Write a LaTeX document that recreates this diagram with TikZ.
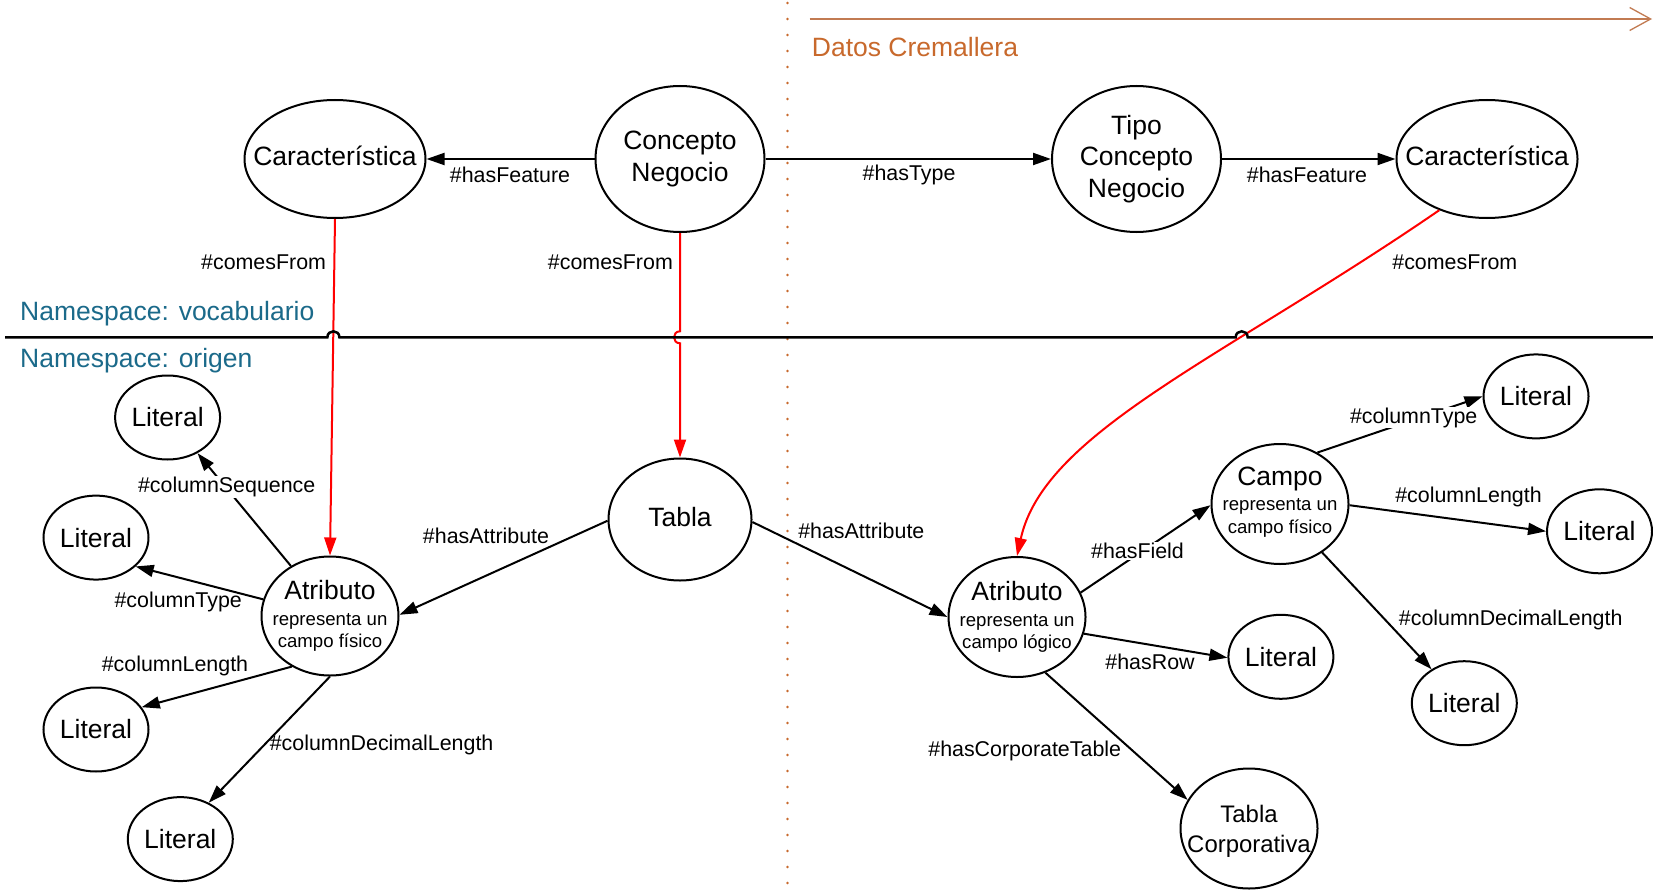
\documentclass[tikz,border=0pt]{standalone}
\usepackage{fontspec}
\setmainfont{Liberation Sans}
\usetikzlibrary{arrows.meta,shapes.geometric}

\definecolor{nsblue}{HTML}{1B6A8A}
\definecolor{zipper}{HTML}{C8692C}
\definecolor{zipline}{HTML}{C27B52}
\definecolor{linkred}{HTML}{FF0000}

\newcommand\subtxt{\fontsize{18.6pt}{22pt}\selectfont}

\tikzset{
  oval/.style 2 args={ellipse, draw, line width=2pt, minimum width=#1, minimum height=#2, inner sep=0pt},
  lit/.style={oval={105pt}{84pt}},
  big/.style={font=\fontsize{26.5pt}{31.6pt}\selectfont, align=center, inner sep=0pt},
  mid/.style={font=\fontsize{23.9pt}{29.5pt}\selectfont, align=center, inner sep=0pt},
  rel/.style={font=\fontsize{21.4pt}{25pt}\selectfont, inner sep=1pt},
  relw/.style={rel, fill=white},
  link/.style={line width=2pt, -{Triangle[length=18pt,width=12pt]}},
  redlink/.style={link, draw=linkred},
  nslabel/.style={font=\fontsize{26.5pt}{30pt}\selectfont, text=nsblue, anchor=base west, inner sep=0pt},
}

\begin{document}
\begin{tikzpicture}[x=1pt,y=-1pt]
\fill[white] (0,0) rectangle (1653,896);
\useasboundingbox (0,0) rectangle (1653,896);

% zipper data band: dotted divider and arrow
\coordinate (divT) at (787.5,3);
\coordinate (divB) at (787.5,896);
\draw[zipper, line width=2.6pt, line cap=round, dash pattern=on 0pt off 16pt] (divT) -- (divB);
\coordinate (zs) at (809.5,19);
\coordinate (ze) at (1652,19);
\draw[zipline, line width=1.3pt, -{Straight Barb[length=21pt,width=23pt]}] (zs) -- (ze);
\node[font=\fontsize{26.5pt}{30pt}\selectfont, text=zipper, anchor=base west, inner sep=0pt] (zipt) at (811.7,57) {Datos Cremallera};

% namespaces
\node[nslabel] (nsv) at (20,320.5) {Namespace: vocabulario};
\node[nslabel] (nso) at (20,367) {Namespace: origen};

% vocabulary nodes
\node[oval={181pt}{118pt}] (car1) at (335,159) {};
\node[big, yshift=3pt] (car1t) at (car1) {Característica};
\node[oval={169pt}{146pt}] (con) at (680,159) {};
\node[big] (cont) at (con) {Concepto\\Negocio};
\node[oval={169pt}{146pt}] (tipo) at (1136.5,159) {};
\node[big] (tipot) at (tipo) {Tipo\\Concepto\\Negocio};
\node[oval={181pt}{118pt}] (car2) at (1487,159) {};
\node[big, yshift=3pt] (car2t) at (car2) {Característica};

% origin nodes
\node[oval={143pt}{122pt}] (tabla) at (680,519.5) {};
\node[big, yshift=2pt] (tablat) at (tabla) {Tabla};
\node[oval={137pt}{119pt}] (atr1) at (330,616) {};
\node[big] (atr1t) at (atr1) {Atributo\\[-6.3pt]\subtxt representa un\\[-9.5pt]\subtxt campo físico};
\node[oval={137pt}{120pt}] (atr2) at (1017,617) {};
\node[big] (atr2t) at (atr2) {Atributo\\[-6.3pt]\subtxt representa un\\[-9.5pt]\subtxt campo lógico};
\node[oval={137pt}{120pt}] (campo) at (1280,504) {};
\node[big, yshift=2pt] (campot) at (campo) {Campo\\[-6.3pt]\subtxt representa un\\[-9.5pt]\subtxt campo físico};
\node[oval={137pt}{120pt}] (tc) at (1249,828.5) {};
\node[mid, yshift=-3pt] (tct) at (tc) {Tabla\\Corporativa};

\foreach \n/\p in {lit1/{(167.6,417.5)}, lit2/{(96,537.6)}, lit3/{(96,729.5)}, lit4/{(180.3,839.1)},
                   lit5/{(1536,396.4)}, lit6/{(1599.5,531.3)}, lit7/{(1280.9,656.8)}, lit8/{(1464.3,703.2)}}{
  \node[lit] (\n) at \p {};
  \node[big] (\n t) at (\n) {Literal};
}

% vocabulary relations
\draw[link] (con.180) -- (car1.0);
\draw[link] (con.0) -- (tipo.180);
\draw[link] (tipo.0) -- (car2.180);
\node[rel] (lhf1) at (510,175) {\#hasFeature};
\node[rel] (lht) at (909,175) {\#hasType};
\node[rel] (lhf2) at (1307,175) {\#hasFeature};

% provenance links (red)
\coordinate (hopT) at (680,331.3);
\coordinate (hopB) at (680,343.3);
\draw[redlink] (car1.south) -- (atr1.north);
\draw[redlink] (con.south) -- (hopT) .. controls (672,331.3) and (672,343.3) .. (hopB) -- (tabla.north);
\draw[redlink] (car2.-133) .. controls (1224,358) and (1044,432) .. (atr2.north);
\node[rel] (lcf1) at (263.6,262.5) {\#comesFrom};
\node[rel] (lcf2) at (610.4,262.5) {\#comesFrom};
\node[rel] (lcf3) at (1454.8,262.5) {\#comesFrom};

% namespace divider, hopping over the red links
\coordinate (nsL) at (5,337.3);
\coordinate (nsR) at (1653,337.3);
\draw[line width=2.5pt] (nsL) -- (327.4,337.3) .. controls (327.4,329.3) and (339.4,329.3) .. (339.4,337.3)
  -- (1235.7,337.3) .. controls (1235.7,329.3) and (1247.7,329.3) .. (1247.7,337.3) -- (nsR);

% origin relations
\draw[link] (tabla.181) -- (atr1.1);
\draw[link] (tabla.-2) -- (atr2.180);
\node[rel] (lha1) at (486,535.5) {\#hasAttribute};
\node[rel] (lha2) at (861.3,531.3) {\#hasAttribute};

\draw[link] (atr1.128.7) -- (lit1.-50.5);
\draw[link] (atr1.166) -- (lit2.-36.9);
\draw[link] (atr1.-127) -- (lit3.26.6);
\draw[link] (atr1.south) -- (lit4.52.4);
\node[relw] (lcs) at (226.7,487) {\#columnSequence};
\node[rel] (lct1) at (178.2,602) {\#columnType};
\node[rel] (lcl1) at (175,666.3) {\#columnLength};
\node[rel] (lcd1) at (381.6,745.3) {\#columnDecimalLength};

\draw[link] (atr2.21.8) -- (campo.181);
\draw[link] (atr2.-14.7) -- (lit7.181);
\draw[link] (atr2.-63) -- (tc.155.5);
\node[relw] (lhfd) at (1137.5,551.3) {\#hasField};
\node[rel] (lhr) at (1150,662) {\#hasRow};
\node[rel] (lhct) at (1024.7,750.6) {\#hasCorporateTable};

\draw[link] (campo.54.7) -- (lit5.180);
\draw[link] (campo.-1) -- (lit6.180);
\draw[link] (campo.-49) -- (lit8.134);
\node[relw] (lct2) at (1413.7,417.5) {\#columnType};
\node[rel] (lcl2) at (1468.5,496.5) {\#columnLength};
\node[relw] (lcd2) at (1510.7,619.9) {\#columnDecimalLength};
\end{tikzpicture}
\end{document}
